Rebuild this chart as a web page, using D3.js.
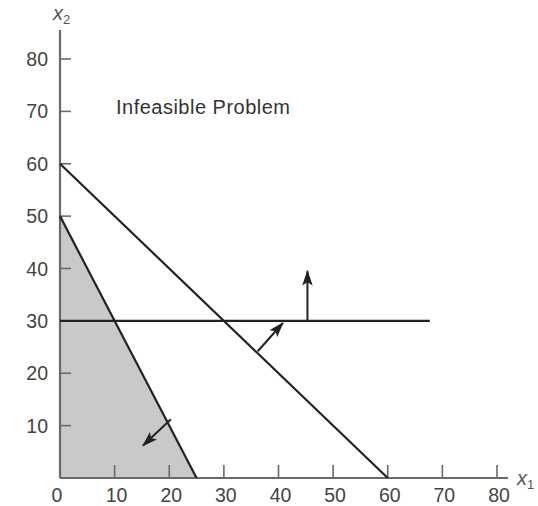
<!DOCTYPE html>
<html><head><meta charset="utf-8">
<script src="https://cdn.jsdelivr.net/npm/d3@7"></script>
<style>body{margin:0;background:#fff}svg{display:block}text{font-family:"Liberation Sans",Arial,sans-serif}</style>
</head><body><div id="c"></div>
<script>
const xTicks = [10, 20, 30, 40, 50, 60, 70, 80];
const yTicks = [10, 20, 30, 40, 50, 60, 70, 80];
const feasibleRegion = [[0, 0], [0, 50], [25, 0]];
const constraintLines = [
  [[0, 50], [25, 0]],
  [[0, 60], [60, 0]],
  [[0, 30], [67.7, 30]]
];
const arrows = [
  [[20.3, 11.2], [15.2, 6.2]],
  [[36.2, 24.2], [40.8, 29.6]],
  [[45.3, 30], [45.3, 39.5]]
];
const title = "Infeasible Problem";

const W = 538, H = 506;
const svg = d3.select("#c").append("svg").attr("width", W).attr("height", H);
const x = d3.scaleLinear().domain([0, 80]).range([60, 497]);
const y = d3.scaleLinear().domain([0, 80]).range([478, 59]);

const defs = svg.append("defs");
defs.append("marker").attr("id", "ah").attr("viewBox", "0 0 12 10")
  .attr("refX", 11).attr("refY", 5).attr("markerWidth", 8).attr("markerHeight", 6.5)
  .attr("markerUnits", "strokeWidth").attr("orient", "auto")
  .append("path").attr("d", "M0,1 L12,5 L0,9 L2.5,5 Z").attr("fill", "#222");

const line = d3.line().x(d => x(d[0])).y(d => y(d[1]));

svg.append("path").datum(feasibleRegion).attr("d", line(feasibleRegion) + "Z")
  .attr("fill", "#c9c9c9");

// axes
const axisColor = "#6a6a6a";
svg.append("line").attr("x1", x(0)).attr("x2", x(0)).attr("y1", 30).attr("y2", y(0))
  .attr("stroke", axisColor).attr("stroke-width", 2.2);
svg.append("line").attr("x1", x(0)).attr("x2", 508).attr("y1", y(0)).attr("y2", y(0))
  .attr("stroke", axisColor).attr("stroke-width", 2.2);

svg.selectAll(".xt").data(xTicks).join("line")
  .attr("x1", d => x(d)).attr("x2", d => x(d)).attr("y1", y(0)).attr("y2", y(0) - 13)
  .attr("stroke", axisColor).attr("stroke-width", 1.6);
svg.selectAll(".yt").data(yTicks).join("line")
  .attr("x1", x(0)).attr("x2", x(0) + 11).attr("y1", d => y(d)).attr("y2", d => y(d))
  .attr("stroke", axisColor).attr("stroke-width", 1.6);

const tickFont = 19.5;
svg.selectAll(".xl").data([0].concat(xTicks)).join("text")
  .attr("x", d => x(d) + (d === 0 ? -3 : 2)).attr("y", 502)
  .attr("text-anchor", "middle").attr("font-size", tickFont).attr("fill", "#444")
  .text(d => d);
svg.selectAll(".yl").data(yTicks).join("text")
  .attr("x", 48).attr("y", d => y(d) + 7)
  .attr("text-anchor", "end").attr("font-size", tickFont).attr("fill", "#444")
  .text(d => d);

// axis titles
const t2 = svg.append("text").attr("x", 53).attr("y", 20).attr("font-size", 20).attr("fill", "#555");
t2.append("tspan").attr("font-style", "italic").text("x");
t2.append("tspan").attr("font-size", 13).attr("dy", 4).text("2");
const t1 = svg.append("text").attr("x", 517).attr("y", 485).attr("font-size", 20).attr("fill", "#555");
t1.append("tspan").attr("font-style", "italic").text("x");
t1.append("tspan").attr("font-size", 13).attr("dy", 4).text("1");

// constraint lines
svg.selectAll(".cl").data(constraintLines).join("path")
  .attr("d", line).attr("fill", "none").attr("stroke", "#222").attr("stroke-width", 2.2);

// arrows
svg.selectAll(".ar").data(arrows).join("path")
  .attr("d", line).attr("fill", "none").attr("stroke", "#222").attr("stroke-width", 2)
  .attr("marker-end", "url(#ah)");

svg.append("text").attr("x", 116).attr("y", 114).attr("font-size", 20).attr("fill", "#333")
  .attr("textLength", 174).text(title);
</script></body></html>
